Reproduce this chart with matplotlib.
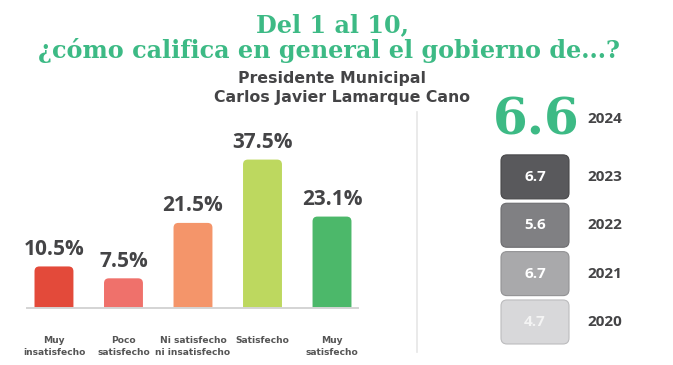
import matplotlib
matplotlib.use('Agg')
import matplotlib.pyplot as plt
from matplotlib.patches import FancyBboxPatch

# data
categories = ['Muy\ninsatisfecho', 'Poco\nsatisfecho', 'Ni satisfecho\nni insatisfecho',
              'Satisfecho', 'Muy\nsatisfecho']
shares = [10.5, 7.5, 21.5, 37.5, 23.1]
bar_colors = ['#e34a3a', '#ef716b', '#f4956a', '#bdd85f', '#4cb86a']

current_year = 2024
current_score = 6.6
past_years = [2023, 2022, 2021, 2020]
past_scores = [6.7, 5.6, 6.7, 4.7]
box_colors = ['#59595c', '#808083', '#a9a9ab', '#d8d8da']
box_edges = ['#48484a', '#6c6c6f', '#929294', '#bcbcbe']
box_text = ['white', 'white', 'white', '#f4f4f4']

GREEN = '#3dba85'
DARK = '#444446'
SANS = 'Open Sans'
WIDE = 'DejaVu Sans'

W, H = 673, 365
fig = plt.figure(figsize=(W / 100, H / 100), dpi=100)
fig.patch.set_facecolor('white')


def px(x0, y0, x1, y1):
    # pixel box -> figure fraction rect
    return [x0 / W, 1 - y1 / H, (x1 - x0) / W, (y1 - y0) / H]


# titles
fig.text(332 / W, 1 - 32 / H, 'Del 1 al 10,', ha='center', va='baseline',
         fontsize=17.2, fontweight='bold', family='DejaVu Serif', color=GREEN)
fig.text(329 / W, 1 - 58 / H, '¿cómo califica en general el gobierno de...?', ha='center',
         va='baseline', fontsize=17.2, fontweight='bold', family='DejaVu Serif', color=GREEN)
fig.text(332 / W, 1 - 83 / H, 'Presidente Municipal', ha='center', va='baseline',
         fontsize=11.3, fontweight='bold', family=WIDE, color=DARK)
fig.text(342 / W, 1 - 102 / H, 'Carlos Javier Lamarque Cano', ha='center', va='baseline',
         fontsize=11.3, fontweight='bold', family=WIDE, color=DARK)

# bar chart
ax = fig.add_axes(px(27, 120, 358, 308))
x = list(range(len(shares)))
bars = ax.bar(x, shares, width=0.56, color=bar_colors)
ax.set_xlim(-0.388, 4.374)
ax.set_ylim(0, 47.5)
aspect = (331 / 4.762) / (188 / 47.5)
for b in bars:
    bx, bw, bh = b.get_x(), b.get_width(), b.get_height()
    r = 0.07
    patch = FancyBboxPatch((bx, -r * aspect), bw, bh + r * aspect,
                           boxstyle=f'round,pad=0,rounding_size={r}',
                           mutation_aspect=aspect, facecolor=b.get_facecolor(),
                           edgecolor='none', clip_on=True)
    ax.add_patch(patch)
    b.remove()
    ax.annotate(f'{bh:.1f}%', (bx + bw / 2, bh), xytext=(0, 8.5), textcoords='offset points',
                ha='center', va='baseline', fontsize=15, fontweight='bold',
                family=SANS, color=DARK)

ax.set_xticks(x)
ax.set_xticklabels(categories, fontsize=6.6, fontweight='bold', family=WIDE,
                   color='#555555', linespacing=1.45)
ax.tick_params(axis='x', length=0, pad=20)
ax.set_yticks([])
for s in ['top', 'left', 'right']:
    ax.spines[s].set_visible(False)
ax.spines['bottom'].set_color('#d4d4d4')
ax.spines['bottom'].set_linewidth(1.4)
ax.patch.set_alpha(0)

# divider
fig.add_artist(plt.Line2D([417 / W, 417 / W], [1 - 112 / H, 1 - 352 / H],
                          color='#e6e6e6', lw=1.2))

# yearly scores panel
pax = fig.add_axes(px(480, 85, 660, 351))
pax.set_xlim(480, 660)
pax.set_ylim(3.6, -1.9)
pax.axis('off')
idx = list(range(len(past_years)))
boxes = pax.barh(idx, [68] * len(idx), left=501, height=0.91, color=box_colors)
pax_aspect = 1 / 48.3
for b, ec, tc, val, yr in zip(boxes, box_edges, box_text, past_scores, past_years):
    bx, by, bw, bh = b.get_x(), b.get_y(), b.get_width(), b.get_height()
    patch = FancyBboxPatch((bx, by), bw, bh, boxstyle='round,pad=0,rounding_size=6',
                           mutation_aspect=pax_aspect, facecolor=b.get_facecolor(),
                           edgecolor=ec, lw=0.8)
    pax.add_patch(patch)
    b.remove()
    yc = by + bh / 2
    pax.text(bx + bw / 2, yc, f'{val:.1f}', ha='center', va='center', fontsize=11,
             fontweight='bold', family=SANS, color=tc)
    pax.text(587, yc, str(yr), ha='left', va='center', fontsize=11,
             fontweight='bold', family=SANS, color=DARK)

pax.text(536, -0.87, f'{current_score:.1f}', ha='center', va='baseline', fontsize=36,
         fontweight='bold', family='DejaVu Serif', color=GREEN)
pax.text(587, -1.12, str(current_year), ha='left', va='baseline', fontsize=11,
         fontweight='bold', family=SANS, color=DARK)

fig.savefig('out.png', dpi=100, facecolor='white')
